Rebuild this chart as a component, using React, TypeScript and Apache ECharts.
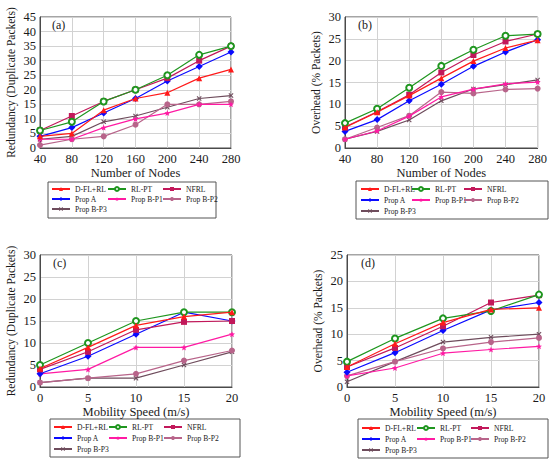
import React, { useEffect, useRef } from "react";
import * as echarts from "echarts";

const nodes = [40, 80, 120, 160, 200, 240, 280];
const speeds = [0, 5, 10, 15, 20];
const seriesNames = ["D-FL+RL", "RL-PT", "NFRL", "Prop A", "Prop B-P1", "Prop B-P2", "Prop B-P3"];

// (a) Redundancy vs number of nodes
const aDFL = [4, 5, 13, 17, 19, 24, 27];
const aRLPT = [6, 9, 16, 20, 25, 32, 35];
const aNFRL = [6, 11, 16, 20, 24, 30, 35];
const aPropA = [4, 7, 12, 17, 23, 28, 33];
const aBP1 = [3, 3, 7, 10, 12, 15, 15];
const aBP2 = [1, 3, 4, 8, 15, 15, 16];
const aBP3 = [3, 4, 9, 11, 14, 17, 18];

// (b) Overhead vs number of nodes
const bDFL = [4.7, 8.2, 12, 16, 19.9, 22.9, 24.7];
const bRLPT = [5.7, 9, 13.8, 18.8, 22.5, 25.7, 26.1];
const bNFRL = [4.8, 8.3, 12.2, 17.3, 21.3, 24.4, 26.1];
const bPropA = [3.8, 6.5, 10.8, 14.6, 18.7, 22, 24.8];
const bBP1 = [2, 3.9, 7.3, 11.7, 13.5, 14.7, 15.1];
const bBP2 = [2, 4.7, 7.4, 12.8, 12.5, 13.4, 13.6];
const bBP3 = [2, 3.8, 6.4, 10.8, 13.5, 14.5, 15.6];

// (c) Redundancy vs mobility speed
const cDFL = [4.2, 9, 14, 16, 17];
const cRLPT = [5, 10, 15, 17, 17];
const cNFRL = [4, 8, 13, 14.8, 15];
const cPropA = [3, 7, 12, 17, 15];
const cBP1 = [3, 4, 9, 9, 12];
const cBP2 = [1, 2, 3, 6, 8.3];
const cBP3 = [1, 2, 2, 5, 8];

// (d) Overhead vs mobility speed
const dDFL = [3.8, 8.2, 12.2, 14.7, 15];
const dRLPT = [4.8, 9.2, 13, 14.4, 17.5];
const dNFRL = [3.8, 7.4, 11.5, 16, 17.4];
const dPropA = [2.8, 6.5, 10.7, 14.6, 16];
const dBP1 = [2.1, 3.6, 6.4, 7.1, 7.7];
const dBP2 = [2.1, 4.8, 7.3, 8.5, 9.3];
const dBP3 = [1, 4.8, 8.5, 9.4, 10];

const yTicksA = { min: 0, max: 45, interval: 5 };
const yTicksB = { min: 0, max: 30, interval: 5 };
const yTicksC = { min: 0, max: 30, interval: 5 };
const yTicksD = { min: 0, max: 25, interval: 5 };

const STAR =
  "path://M0,-10 L2.6,-3.6 L9.5,-3.1 L4.2,1.4 L5.9,8.1 L0,4.4 L-5.9,8.1 L-4.2,1.4 L-9.5,-3.1 L-2.6,-3.6 Z";
const XMARK =
  "path://M-10,-7 L-7,-10 L0,-3 L7,-10 L10,-7 L3,0 L10,7 L7,10 L0,3 L-7,10 L-10,7 L-3,0 Z";

const seriesStyles = [
  { color: "#ff1a1a", symbol: "triangle", size: 6 },
  { color: "#1f961f", symbol: "emptyCircle", size: 6 },
  { color: "#c2185a", symbol: "rect", size: 6 },
  { color: "#0a0aff", symbol: "diamond", size: 7 },
  { color: "#ff1aa3", symbol: STAR, size: 6 },
  { color: "#b8648a", symbol: "circle", size: 6 },
  { color: "#6e4c5c", symbol: XMARK, size: 5 },
];

const FONT = "Liberation Serif";

const panels = [
  {
    grid: { left: 40, top: 17, width: 191, height: 131 },
    xs: nodes, xMin: 40, xMax: 280, xInt: 40, yT: yTicksA,
    xName: "Number of Nodes", yName: "Redundancy (Duplicate Packets)",
    data: [aDFL, aRLPT, aNFRL, aPropA, aBP1, aBP2, aBP3],
    label: "(a)", labelPos: [52, 25],
    box: [48, 182, 168, 36], cols: [51, 107, 162], lTop: 184, rowH: 10,
  },
  {
    grid: { left: 345, top: 17, width: 193, height: 131 },
    xs: nodes, xMin: 40, xMax: 280, xInt: 40, yT: yTicksB,
    xName: "Number of Nodes", yName: "Overhead (% Packets)",
    data: [bDFL, bRLPT, bNFRL, bPropA, bBP1, bBP2, bBP3],
    label: "(b)", labelPos: [358, 25],
    box: [356, 181, 192, 38], cols: [360, 411, 463], lTop: 184, rowH: 11,
  },
  {
    grid: { left: 40, top: 255, width: 192, height: 132 },
    xs: speeds, xMin: 0, xMax: 20, xInt: 5, yT: yTicksC,
    xName: "Mobility Speed (m/s)", yName: "Redundancy (Duplicate Packets)",
    data: [cDFL, cRLPT, cNFRL, cPropA, cBP1, cBP2, cBP3],
    label: "(c)", labelPos: [53, 263],
    box: [50, 419, 190, 38], cols: [53, 108, 163], lTop: 422, rowH: 11,
  },
  {
    grid: { left: 347, top: 255, width: 192, height: 132 },
    xs: speeds, xMin: 0, xMax: 20, xInt: 5, yT: yTicksD,
    xName: "Mobility Speed (m/s)", yName: "Overhead (% Packets)",
    data: [dDFL, dRLPT, dNFRL, dPropA, dBP1, dBP2, dBP3],
    label: "(d)", labelPos: [361, 263],
    box: [358, 419, 190, 39], cols: [361, 416, 470], lTop: 423, rowH: 11,
  },
];

const legendColumns = [
  ["D-FL+RL", "Prop A", "Prop B-P3"],
  ["RL-PT", "Prop B-P1"],
  ["NFRL", "Prop B-P2"],
];

export default function App() {
  const ref = useRef<HTMLDivElement>(null);
  useEffect(() => {
    if (!ref.current) return;
    const chart = echarts.init(ref.current, undefined, { renderer: "svg" });
    const grid: any[] = [];
    const xAxis: any[] = [];
    const yAxis: any[] = [];
    const series: any[] = [];
    const legend: any[] = [];
    const graphic: any[] = [];

    panels.forEach((p, pi) => {
      grid.push({
        ...p.grid,
        show: true,
        borderColor: "#4a4a4a",
        borderWidth: 1,
        backgroundColor: "transparent",
        containLabel: false,
      });
      xAxis.push({
        type: "value",
        gridIndex: pi,
        min: p.xMin,
        max: p.xMax,
        interval: p.xInt,
        name: p.xName,
        nameLocation: "middle",
        nameGap: 18,
        nameTextStyle: { fontFamily: FONT, fontSize: 12.5, color: "#1a1a1a" },
        axisLine: { show: true, lineStyle: { color: "#4a4a4a", width: 1 } },
        axisTick: { show: false },
        axisLabel: { fontFamily: FONT, fontSize: 12.5, color: "#1a1a1a", margin: 5, lineHeight: 11 },
        splitLine: { show: true, lineStyle: { color: "#d2d2d2", width: 1 } },
      });
      yAxis.push({
        type: "value",
        gridIndex: pi,
        min: p.yT.min,
        max: p.yT.max,
        interval: p.yT.interval,
        name: p.yName,
        nameLocation: "middle",
        nameGap: 23,
        nameTextStyle: { fontFamily: FONT, fontSize: 11.5, color: "#1a1a1a" },
        axisLine: { show: true, lineStyle: { color: "#4a4a4a", width: 1 } },
        axisTick: { show: false },
        axisLabel: { fontFamily: FONT, fontSize: 12.5, color: "#1a1a1a", margin: 4, lineHeight: 11 },
        splitLine: { show: true, lineStyle: { color: "#d2d2d2", width: 1 } },
      });
      p.data.forEach((vals, si) => {
        const st = seriesStyles[si];
        series.push({
          type: "line",
          name: seriesNames[si],
          xAxisIndex: pi,
          yAxisIndex: pi,
          data: vals.map((v, i) => [p.xs[i], v]),
          symbol: st.symbol,
          symbolSize: st.size,
          showAllSymbol: true,
          lineStyle: { color: st.color, width: 1.2 },
          itemStyle: { color: st.color, borderColor: st.color, borderWidth: st.symbol === "emptyCircle" ? 1.4 : 0 },
          z: 10 - si,
        });
      });
      legendColumns.forEach((col, ci) => {
        legend.push({
          orient: "vertical",
          left: p.cols[ci],
          top: p.lTop,
          data: col,
          padding: 0,
          itemWidth: 18,
          itemHeight: 5,
          itemGap: p.rowH - 10,
          selectedMode: false,
          textStyle: { fontFamily: FONT, fontSize: 7.6, color: "#222", lineHeight: 10 },
        });
      });
      graphic.push({
        type: "rect",
        shape: { x: p.box[0], y: p.box[1], width: p.box[2], height: p.box[3] },
        style: { fill: "transparent", stroke: "#555", lineWidth: 1 },
        silent: true,
      });
      graphic.push({
        type: "text",
        x: p.labelPos[0],
        y: p.labelPos[1],
        style: {
          text: p.label,
          fontFamily: FONT,
          fontSize: 12,
          fill: "#1a1a1a",
          verticalAlign: "middle",
          align: "left",
        },
        z: 100,
      });
    });

    chart.setOption({
      animation: false,
      backgroundColor: "#ffffff",
      grid,
      xAxis,
      yAxis,
      series,
      legend,
      graphic,
    });
    return () => chart.dispose();
  }, []);
  return (
    <div
      ref={ref}
      style={{ position: "absolute", left: 0, top: 0, width: 550, height: 463, background: "#fff" }}
    />
  );
}
